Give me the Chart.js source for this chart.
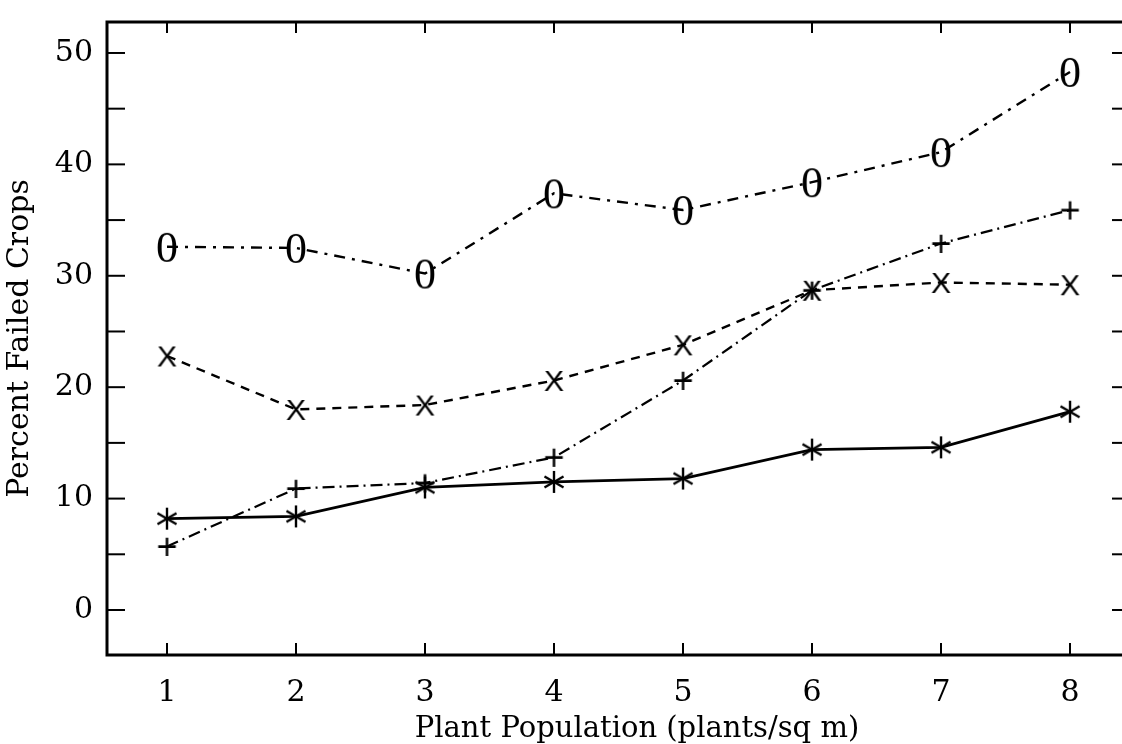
<!DOCTYPE html>
<html>
<head>
<meta charset="utf-8">
<script src="https://cdn.jsdelivr.net/npm/chart.js@4.4.0/dist/chart.umd.min.js"></script>
<style>
  html, body { margin: 0; padding: 0; background: #fff; overflow: hidden; }
  #wrap { width: 1122px; height: 744px; }
</style>
</head>
<body>
<div id="wrap"><canvas id="chart"></canvas></div>
<script>
// plant population (x) and percent failed crops for each of the four curves
const xValues = [1, 2, 3, 4, 5, 6, 7, 8];
const seriesO = [32.6, 32.5, 30.2, 37.4, 35.9, 38.4, 41.1, 48.3];
const seriesX = [22.8, 18.0, 18.4, 20.6, 23.8, 28.7, 29.4, 29.2];
const seriesPlus = [5.7, 10.9, 11.4, 13.7, 20.6, 28.7, 32.9, 35.9];
const seriesStar = [8.2, 8.4, 11.0, 11.5, 11.8, 14.4, 14.6, 17.8];
const yTicks = [0, 5, 10, 15, 20, 25, 30, 35, 40, 45, 50];

const SERIF = '"DejaVu Serif", serif';

// marker made from a text glyph, centred on its ink
function glyph(ch, px, family) {
    const c = document.createElement("canvas");
    const size = Math.ceil(px * 1.3);
    c.width = c.height = size;
    const g = c.getContext("2d");
    g.font = px + "px " + family;
    g.fillStyle = "#000";
    const m = g.measureText(ch);
    const w = m.actualBoundingBoxLeft + m.actualBoundingBoxRight;
    g.fillText(ch,
        size / 2 - w / 2 + m.actualBoundingBoxLeft,
        size / 2 + (m.actualBoundingBoxAscent - m.actualBoundingBoxDescent) / 2);
    return c;
}

// six-armed asterisk
function asterisk(r) {
    const c = document.createElement("canvas");
    const size = r * 2 + 4;
    c.width = c.height = size;
    const g = c.getContext("2d");
    g.strokeStyle = "#000";
    g.lineWidth = 2.4;
    for (let k = 0; k < 3; k++) {
        const a = Math.PI / 2 + k * Math.PI / 3;
        g.beginPath();
        g.moveTo(size / 2 - r * Math.cos(a), size / 2 - r * Math.sin(a));
        g.lineTo(size / 2 + r * Math.cos(a), size / 2 + r * Math.sin(a));
        g.stroke();
    }
    return c;
}

const toPoints = arr => xValues.map((x, i) => ({ x: x, y: arr[i] }));

// frame (left, bottom, top) and inward tick marks on all four sides
const framePlugin = {
    id: "frame",
    afterDraw(chart) {
        const { ctx, chartArea: a, scales: { x, y } } = chart;
        const line = (x1, y1, x2, y2) => { ctx.beginPath(); ctx.moveTo(x1, y1); ctx.lineTo(x2, y2); ctx.stroke(); };
        ctx.save();
        ctx.strokeStyle = "#000";
        ctx.lineWidth = 3;
        ctx.beginPath();
        ctx.moveTo(a.right, a.top);
        ctx.lineTo(a.left, a.top);
        ctx.lineTo(a.left, a.bottom);
        ctx.lineTo(a.right, a.bottom);
        ctx.stroke();
        ctx.lineWidth = 2;
        y.ticks.forEach(t => {
            const py = y.getPixelForValue(t.value);
            line(a.left, py, a.left + 18, py);
            line(a.right - 10, py, a.right, py);
        });
        x.ticks.forEach(t => {
            const px = x.getPixelForValue(t.value);
            line(px, a.bottom, px, a.bottom - 12);
            line(px, a.top, px, a.top + 11);
        });
        // x axis title
        ctx.fillStyle = "#000";
        ctx.font = "29px " + SERIF;
        ctx.textAlign = "center";
        ctx.textBaseline = "alphabetic";
        ctx.fillText("Plant Population (plants/sq m)", 637, 737);
        ctx.restore();
    }
};

new Chart(document.getElementById("chart"), {
    type: "line",
    data: {
        datasets: [
            { data: toPoints(seriesO), borderColor: "#000", borderWidth: 2.4, borderDash: [11, 7, 3, 7],
              pointStyle: glyph("0", 44, '"Liberation Serif", serif') },
            { data: toPoints(seriesX), borderColor: "#000", borderWidth: 2.4, borderDash: [9, 7],
              pointStyle: glyph("X", 30, '"Liberation Sans", sans-serif') },
            { data: toPoints(seriesPlus), borderColor: "#000", borderWidth: 2.2, borderDash: [12, 5, 2, 5],
              pointStyle: glyph("+", 36, '"Liberation Sans", sans-serif') },
            { data: toPoints(seriesStar), borderColor: "#000", borderWidth: 2.8,
              pointStyle: asterisk(11) }
        ]
    },
    options: {
        responsive: true,
        maintainAspectRatio: false,
        animation: false,
        layout: { autoPadding: false, padding: { top: 22, right: 0, left: 0, bottom: 0 } },
        plugins: { legend: { display: false }, tooltip: { enabled: false } },
        elements: { line: { tension: 0, fill: false } },
        scales: {
            x: {
                type: "linear",
                min: 0.535,
                max: 8.403,
                afterBuildTicks: s => { s.ticks = xValues.map(v => ({ value: v })); },
                afterFit: s => { s.height = 89; s.paddingLeft = 0; s.paddingRight = 0; },
                grid: { display: false },
                border: { display: false },
                ticks: { color: "#000", font: { family: SERIF, size: 30 }, padding: 12 }
            },
            y: {
                min: -4.04,
                max: 52.78,
                afterBuildTicks: s => { s.ticks = yTicks.map(v => ({ value: v })); },
                afterFit: s => { s.width = 107; s.paddingTop = 0; s.paddingBottom = 0; },
                grid: { display: false },
                border: { display: false },
                ticks: { color: "#000", font: { family: SERIF, size: 30 }, padding: 6,
                         callback: v => (v % 10 === 0 ? v : "") },
                title: { display: true, text: "Percent Failed Crops", color: "#000",
                         font: { family: SERIF, size: 30 }, padding: { top: 2, bottom: 0 } }
            }
        }
    },
    plugins: [framePlugin]
});
</script>
</body>
</html>
